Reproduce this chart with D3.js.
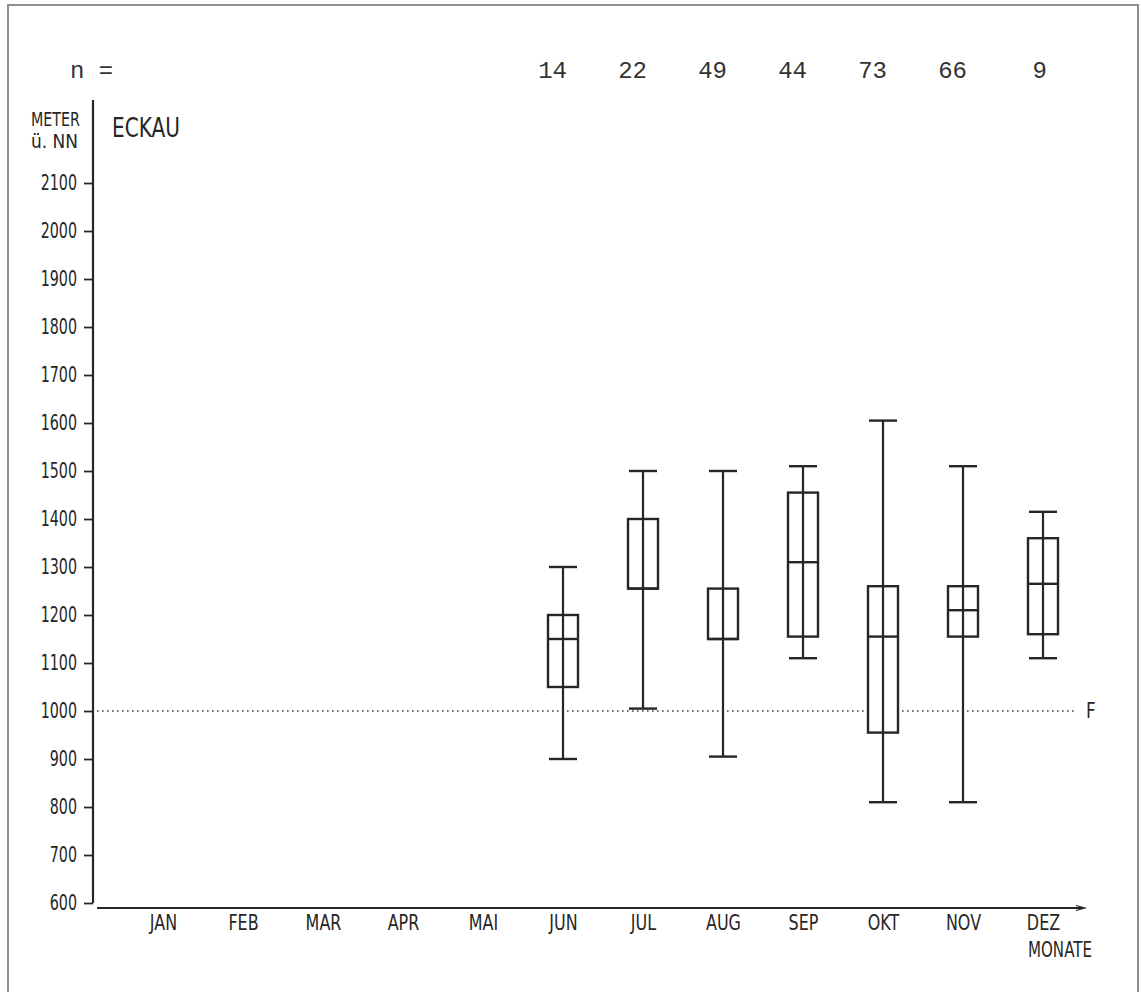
<!DOCTYPE html>
<html>
<head>
<meta charset="utf-8">
<script src="https://cdn.jsdelivr.net/npm/d3@7"></script>
<style>
  html, body { margin: 0; padding: 0; background: #fff; }
  svg { display: block; }
  .lbl { font-family: "DejaVu Sans", sans-serif; fill: #262626; }
  .mono { font-family: "Liberation Mono", "DejaVu Sans Mono", monospace; fill: #333; }
</style>
</head>
<body>
<svg id="chart" width="1141" height="992"></svg>
<script>
// Monthly altitude distribution (metres above sea level), station ECKAU
const months = ["JAN", "FEB", "MAR", "APR", "MAI", "JUN", "JUL", "AUG", "SEP", "OKT", "NOV", "DEZ"];
const boxMonths = ["JUN", "JUL", "AUG", "SEP", "OKT", "NOV", "DEZ"];
const counts    = [14, 22, 49, 44, 73, 66, 9];
const minVals   = [900, 1005, 905, 1110, 810, 810, 1110];
const q1Vals    = [1050, 1255, 1150, 1155, 955, 1155, 1160];
const medVals   = [1150, 1255, 1150, 1310, 1155, 1210, 1265];
const q3Vals    = [1200, 1400, 1255, 1455, 1260, 1260, 1360];
const maxVals   = [1300, 1500, 1500, 1510, 1605, 1510, 1415];
const yTicks    = [600, 700, 800, 900, 1000, 1100, 1200, 1300, 1400, 1500, 1600, 1700, 1800, 1900, 2000, 2100];
const refLevel  = 1000;

const svg = d3.select("#chart");
const ink = "#262626";

// squeeze rendered text horizontally to a narrow lettering style
function condense(sel, factor) {
  sel.each(function () {
    const w = this.getComputedTextLength();
    d3.select(this).attr("textLength", w * factor).attr("lengthAdjust", "spacingAndGlyphs");
  });
}

const x = d3.scalePoint().domain(months).range([163, 1043]);
const y = d3.scaleLinear().domain([600, 2100]).range([903, 183]);

// page frame (open at the bottom)
svg.append("path")
  .attr("d", "M8,992 V5 H1138 V992")
  .attr("fill", "none").attr("stroke", "#8f8f8f").attr("stroke-width", 2);

// y axis
const yAxis = svg.append("g").attr("transform", "translate(93,0)")
  .call(d3.axisLeft(y).tickValues(yTicks).tickSize(9).tickPadding(7).tickFormat(d3.format("d")));
yAxis.select(".domain").attr("d", `M0,${y(600)}V100`).attr("stroke", ink).attr("stroke-width", 2.2);
yAxis.selectAll(".tick line").attr("stroke", ink).attr("stroke-width", 1.8);
yAxis.selectAll(".tick text").attr("class", "lbl").attr("font-size", 21).attr("fill", null)
  .attr("font-family", null).call(condense, 0.68);

// x axis
const xAxis = svg.append("g").attr("transform", "translate(0,908)")
  .call(d3.axisBottom(x).tickSize(0).tickPadding(7));
xAxis.select(".domain").attr("d", "M97,0H1083").attr("stroke", ink).attr("stroke-width", 2.2);
xAxis.selectAll(".tick text").attr("class", "lbl").attr("font-size", 21).attr("fill", null)
  .attr("font-family", null).call(condense, 0.76);
svg.append("path").attr("d", "M1076,905.5L1085,908L1076,910.5").attr("fill", "none")
  .attr("stroke", ink).attr("stroke-width", 1.2);
svg.append("text").attr("class", "lbl").attr("font-size", 21)
  .attr("x", 1028).attr("y", 957).attr("textLength", 64).attr("lengthAdjust", "spacingAndGlyphs")
  .text("MONATE");

// axis caption and station name
svg.append("text").attr("class", "lbl").attr("font-size", 20)
  .attr("x", 31).attr("y", 126).attr("textLength", 49).attr("lengthAdjust", "spacingAndGlyphs").text("METER");
svg.append("text").attr("class", "lbl").attr("font-size", 20)
  .attr("x", 31).attr("y", 148).attr("textLength", 47).attr("lengthAdjust", "spacingAndGlyphs").text("ü. NN");
svg.append("text").attr("class", "lbl").attr("font-size", 27)
  .attr("x", 112).attr("y", 137).attr("textLength", 68).attr("lengthAdjust", "spacingAndGlyphs").text("ECKAU");

// sample sizes
svg.append("text").attr("class", "mono").attr("font-size", 24)
  .attr("x", 70).attr("y", 78).attr("xml:space", "preserve").text("n =");
svg.append("g").selectAll("text").data(boxMonths).join("text")
  .attr("class", "mono").attr("font-size", 24).attr("text-anchor", "end")
  .attr("x", d => x(d) + 4).attr("y", 78)
  .text((d, i) => counts[i]);

// reference level
svg.append("line")
  .attr("x1", 97).attr("x2", 1076).attr("y1", y(refLevel)).attr("y2", y(refLevel))
  .attr("stroke", "#707070").attr("stroke-width", 1.8).attr("stroke-dasharray", "1.6,3.4");
svg.append("text").attr("class", "lbl").attr("font-size", 21)
  .attr("x", 1086).attr("y", y(refLevel) + 7).text("F").call(condense, 0.8);

// box plots
const boxW = 30, capW = 28;
const boxes = svg.append("g").selectAll("g").data(boxMonths).join("g")
  .attr("transform", d => `translate(${x(d)},0)`);
boxes.append("line").attr("x1", 0).attr("x2", 0)
  .attr("y1", (d, i) => y(minVals[i])).attr("y2", (d, i) => y(maxVals[i]))
  .attr("stroke", ink).attr("stroke-width", 2.2);
boxes.append("rect")
  .attr("x", -boxW / 2).attr("width", boxW)
  .attr("y", (d, i) => y(q3Vals[i])).attr("height", (d, i) => y(q1Vals[i]) - y(q3Vals[i]))
  .attr("fill", "#fff").attr("stroke", ink).attr("stroke-width", 2.4);
boxes.append("line").attr("x1", 0).attr("x2", 0)
  .attr("y1", (d, i) => y(q1Vals[i])).attr("y2", (d, i) => y(q3Vals[i]))
  .attr("stroke", ink).attr("stroke-width", 2.2);
boxes.append("line").attr("x1", -boxW / 2).attr("x2", boxW / 2)
  .attr("y1", (d, i) => y(medVals[i])).attr("y2", (d, i) => y(medVals[i]))
  .attr("stroke", ink).attr("stroke-width", 2.4);
[minVals, maxVals].forEach(vals => {
  boxes.append("line").attr("x1", -capW / 2).attr("x2", capW / 2)
    .attr("y1", (d, i) => y(vals[i])).attr("y2", (d, i) => y(vals[i]))
    .attr("stroke", ink).attr("stroke-width", 2.4);
});
</script>
</body>
</html>
